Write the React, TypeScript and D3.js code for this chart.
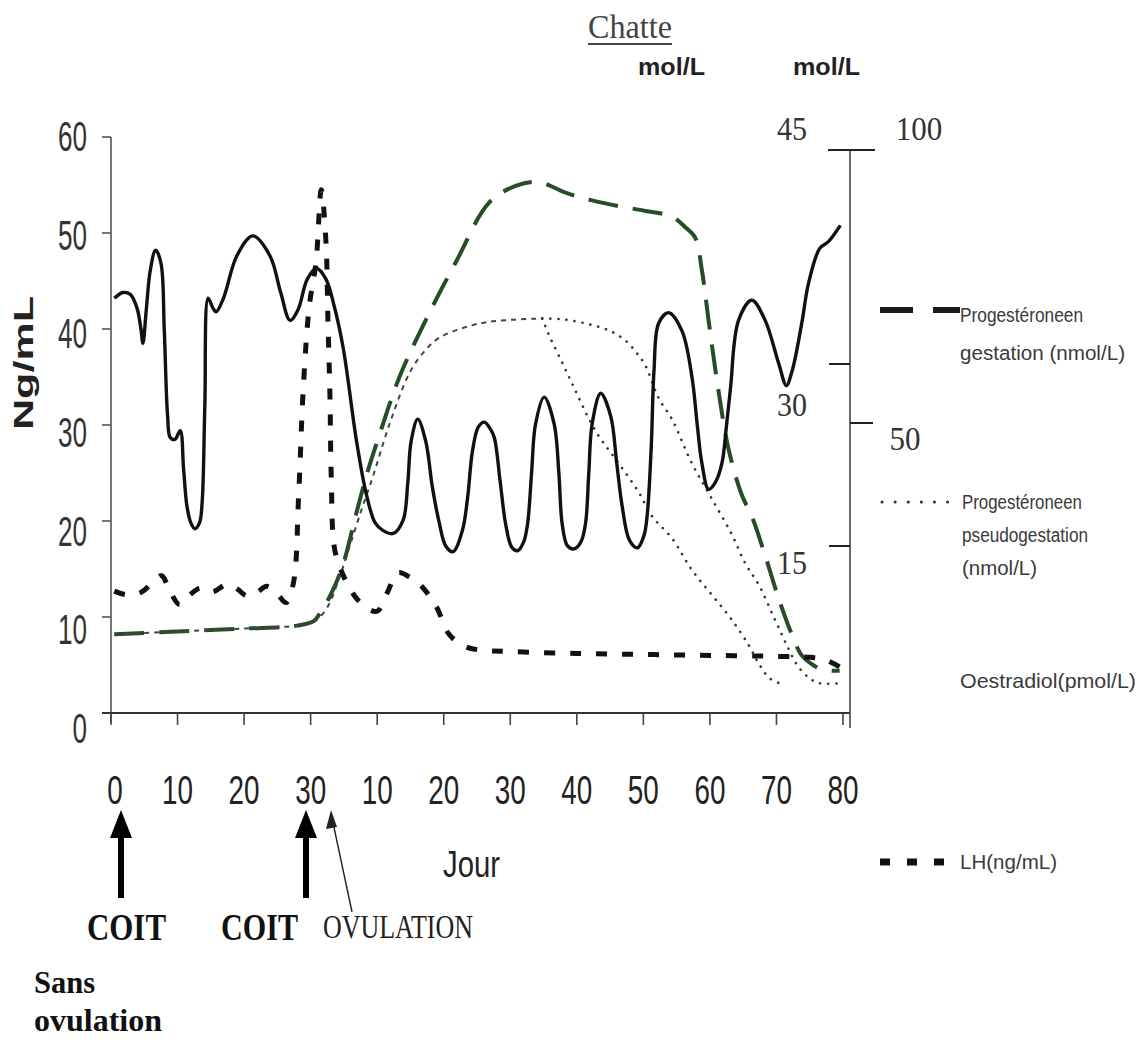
import React from 'react';
import * as d3 from 'd3';

const W = 1148;
const H = 1044;

// x domain: continuous day index (0-30 first cycle, then 30 + day of second phase)
const xTickPos = [0, 10, 20, 30, 40, 50, 60, 70, 80, 90, 100, 110];
const xTickLabels = ['0', '10', '20', '30', '10', '20', '30', '40', '50', '60', '70', '80'];
const yTicks = [0, 10, 20, 30, 40, 50, 60];
const rightInnerTicks = [45, 30, 15];
const rightOuterTicks = [100, 50];

// Oestradiol (solid black)
const oestT = [0.5, 1.8, 2.9, 3.9, 4.5, 4.8, 5.3, 5.9, 6.7, 7.5, 8.0, 8.5, 8.9, 9.6, 10.4, 10.9, 11.4, 12.0, 12.6, 13.3, 13.7, 14.1, 14.6, 15.3, 15.8, 16.9, 18.9, 21.3, 23.9, 25.5, 26.9, 28.1, 29.5, 30.9, 32.3, 33.5, 34.9, 36.9, 38.4, 39.7, 40.9, 42.4, 43.9, 44.6, 45.1, 46.1, 47.3, 48.3, 49.3, 50.3, 51.4, 52.8, 53.6, 54.3, 55.2, 56.1, 57.0, 57.6, 58.5, 59.3, 60.2, 61.1, 62.0, 62.6, 63.2, 63.8, 65.1, 66.6, 67.3, 67.8, 68.6, 69.6, 70.6, 71.3, 71.8, 72.3, 73.6, 75.1, 76.0, 76.8, 77.9, 79.1, 80.1, 80.6, 81.2, 81.6, 82.3, 83.8, 85.8, 87.3, 88.1, 88.8, 89.8, 90.8, 91.8, 92.5, 93.1, 94.3, 96.3, 98.3, 100.3, 101.5, 102.3, 103.0, 103.9, 104.8, 106.5, 107.8, 109.6];
const oestV = [43.2, 43.8, 43.6, 42.2, 40.0, 38.5, 42.0, 46.1, 48.2, 46.9, 40.0, 31.0, 28.7, 28.5, 29.4, 25.5, 21.6, 19.8, 19.2, 19.8, 22.0, 32.0, 43.2, 42.2, 41.8, 43.2, 47.6, 49.7, 47.6, 43.8, 40.9, 42.0, 45.2, 46.3, 45.2, 42.5, 38.0, 28.3, 22.7, 19.8, 19.0, 18.7, 20.1, 24.0, 28.3, 30.6, 28.3, 23.5, 19.9, 17.4, 16.8, 19.0, 22.5, 27.2, 29.8, 30.3, 29.6, 28.7, 24.0, 19.7, 17.3, 16.9, 17.8, 19.7, 25.0, 30.1, 32.9, 30.1, 25.0, 19.7, 17.4, 17.1, 17.8, 19.7, 25.0, 30.1, 33.3, 30.9, 26.0, 21.6, 18.0, 17.2, 18.5, 20.8, 28.0, 35.7, 40.6, 41.7, 39.8, 35.0, 30.0, 26.0, 23.3, 24.0, 26.0, 30.0, 33.9, 40.9, 43.0, 40.9, 36.5, 34.1, 35.5, 37.6, 41.0, 44.7, 48.4, 49.1, 50.8];

// LH (thick short dashes)
const lhT = [0.5, 2.5, 4.6, 6.5, 7.6, 9.0, 10.3, 12.0, 13.4, 15.2, 17.4, 19.0, 20.4, 22.0, 23.4, 25.0, 26.3, 27.4, 28.2, 28.9, 29.8, 30.8, 31.6, 32.3, 32.6, 32.9, 33.1, 33.6, 34.8, 36.5, 38.3, 40.0, 41.5, 43.1, 45.0, 46.4, 48.8, 50.8, 53.0, 55.0, 60, 70, 80, 90, 100, 105, 107.5, 109.5];
const lhV = [12.7, 12.3, 12.6, 13.8, 14.3, 12.5, 11.3, 12.4, 13.0, 12.6, 13.4, 12.9, 12.2, 12.6, 13.2, 12.4, 11.5, 13.5, 22.7, 33.9, 42.4, 46.9, 54.5, 49.1, 40.9, 33.1, 24.6, 17.1, 14.5, 12.3, 11.0, 10.6, 12.5, 14.6, 14.1, 13.4, 11.2, 8.2, 7.0, 6.6, 6.4, 6.2, 6.1, 6.0, 5.9, 5.8, 5.5, 4.8];

// Progesterone, gestation (long green dashes)
const gestT = [0.5, 10, 20, 28, 30.5, 31.5, 33.0, 34.8, 36.9, 38.5, 40.35, 43.35, 47.35, 51.85, 56.85, 60.8, 64.3, 68.3, 72.3, 76.3, 80.3, 84.3, 86.3, 87.8, 88.8, 89.8, 91.3, 92.8, 94.8, 96.3, 98.3, 100.3, 102.3, 103.8, 105.5, 107.0, 109.5];
const gestV = [8.2, 8.5, 8.8, 9.1, 9.6, 10.5, 12.3, 15.3, 20.9, 25.0, 29.0, 35.0, 41.0, 47.0, 53.2, 54.9, 55.3, 54.2, 53.4, 52.8, 52.3, 51.7, 50.6, 49.5, 46.1, 40.9, 33.5, 27.5, 22.7, 20.5, 16.4, 12.0, 8.2, 6.0, 5.0, 4.5, 4.4];

// Progesterone, pseudogestation: early part (fine dashes)
const pseudoT = [0.5, 10, 20, 28, 30.5, 32.5, 34.5, 36.3, 37.8, 39.35, 41.85, 44.85, 47.0, 49.35, 54.35, 57.3, 64.8];
const pseudoV = [8.2, 8.5, 8.8, 9.1, 9.5, 11.0, 14.5, 18.3, 21.5, 24.6, 30.1, 35.4, 37.6, 39.1, 40.4, 40.8, 41.1];
// later part, plateau then decline (dotted)
const pseudoLateT = [64.8, 68, 71.8, 75, 77.3, 79, 80.3, 82.3, 84.3, 87.3, 90.3, 93.3, 95.3, 97.3, 99.8, 101.8, 103.3, 105, 106.5, 109.5];
const pseudoLateV = [41.1, 41.0, 40.5, 39.8, 38.8, 37.5, 36.2, 32.8, 30.6, 26.0, 22.3, 18.6, 15.6, 13.4, 9.7, 6.7, 4.8, 3.6, 3.1, 3.1];
// earlier branch of the decline (dotted)
const pseudoBranchT = [64.8, 65.8, 67.8, 69.3, 72.8, 76.3, 79.3, 81.3, 84.3, 87.3, 90.3, 93.3, 95.8, 97.3, 99.0, 100.5];
const pseudoBranchV = [41.1, 39.4, 36.5, 34.3, 29.4, 26.0, 23.0, 20.5, 18.2, 14.9, 12.3, 9.7, 7.1, 5.2, 3.6, 3.1];

const SANS = 'Liberation Sans, Arial, sans-serif';
const SERIF = 'Liberation Serif, Times New Roman, serif';

type P = [number, number];
const zip = (ts: number[], vs: number[]): P[] => ts.map((t, i) => [t, vs[i]] as P);

function Txt(props: { x: number; y: number; s: string; size: number; len?: number; family?: string; weight?: string | number; anchor?: string; fill?: string; transform?: string }) {
  const { x, y, s, size, len, family = SANS, weight = 'normal', anchor = 'start', fill = '#222', transform } = props;
  return (
    <text
      x={x}
      y={y}
      fontSize={size}
      fontFamily={family}
      fontWeight={weight}
      textAnchor={anchor}
      fill={fill}
      transform={transform}
      {...(len ? { textLength: len, lengthAdjust: 'spacingAndGlyphs' } : {})}
    >
      {s}
    </text>
  );
}

export default function App() {
  const x = d3.scaleLinear().domain([0, 110]).range([111, 843]);
  const y = d3.scaleLinear().domain([0, 60]).range([713, 137]);
  const yLab = d3.scaleLinear().domain([0, 60]).range([728, 136]);
  const yIn = d3.scaleLinear().domain([15, 30, 45]).range([546, 364, 150]);
  const yOut = d3.scaleLinear().domain([50, 100]).range([423, 150]);

  const line = d3
    .line<P>()
    .x((d) => x(d[0]))
    .y((d) => y(d[1]))
    .curve(d3.curveCatmullRom.alpha(0.5));

  const RX = 850;
  const innerLabelDy: Record<number, number> = { 45: -10, 30: 52, 15: 28 };
  const outerLabelDy: Record<number, number> = { 100: -10, 50: 27 };
  const LEG = '#3a3a3a';

  return (
    <svg width={W} height={H} style={{ position: 'absolute', left: 0, top: 0, background: '#fff' }}>
      <rect width={W} height={H} fill="#fff" />

      {/* title & units */}
      <Txt x={588} y={38} s="Chatte" size={34} len={84} family={SERIF} fill="#444" />
      <line x1={588} x2={672} y1={44} y2={44} stroke="#444" strokeWidth={2} />
      <Txt x={638} y={75} s="mol/L" size={24} len={67} weight="bold" fill="#222" />
      <Txt x={793} y={75} s="mol/L" size={24} len={67} weight="bold" fill="#222" />

      {/* left axis */}
      <line x1={111} x2={111} y1={137} y2={723} stroke="#555" strokeWidth={1.6} />
      {yTicks.map((v) => (
        <g key={'yt' + v}>
          <line x1={102} x2={111} y1={y(v)} y2={y(v)} stroke="#555" strokeWidth={1.6} />
          <Txt x={87} y={yLab(v) + 15} s={String(v)} size={42} len={String(v).length * 14.5} anchor="end" fill="#333" />
        </g>
      ))}
      <Txt
        x={0}
        y={0}
        s="Ng/mL"
        size={28}
        len={134}
        weight="bold"
        anchor="middle"
        fill="#222"
        transform="translate(33,363) rotate(-90)"
      />

      {/* x axis */}
      <line x1={102} x2={RX} y1={713} y2={713} stroke="#333" strokeWidth={2} />
      {xTickPos.map((t, i) => (
        <g key={'xt' + i}>
          <line x1={x(t)} x2={x(t)} y1={713} y2={725} stroke="#444" strokeWidth={1.6} />
          <Txt
            x={x(t) + (i === 0 ? 4 : 0)}
            y={804}
            s={xTickLabels[i]}
            size={40}
            len={xTickLabels[i].length * 15.5}
            anchor="middle"
            fill="#222"
          />
        </g>
      ))}

      {/* right axis */}
      <line x1={RX} x2={RX} y1={150} y2={728} stroke="#444" strokeWidth={1.6} />
      {rightInnerTicks.map((v) => (
        <g key={'ri' + v}>
          <line x1={v === 45 ? 828 : 829} x2={v === 45 ? 875 : RX} y1={yIn(v)} y2={yIn(v)} stroke="#222" strokeWidth={2} />
          <Txt x={792} y={yIn(v) + innerLabelDy[v]} s={String(v)} size={33} len={String(v).length * 15} anchor="middle" family={SERIF} fill="#333" />
        </g>
      ))}
      {rightOuterTicks.map((v) => (
        <g key={'ro' + v}>
          {v !== 100 && <line x1={RX} x2={873} y1={yOut(v)} y2={yOut(v)} stroke="#222" strokeWidth={2} />}
          <Txt x={v === 100 ? 919 : 905} y={yOut(v) + outerLabelDy[v]} s={String(v)} size={33} len={String(v).length * 15.5} anchor="middle" family={SERIF} fill="#333" />
        </g>
      ))}

      {/* series */}
      <path d={line(zip(gestT, gestV)) || ''} fill="none" stroke="#264d26" strokeWidth={4} strokeDasharray="30 15" />
      <path d={line(zip(pseudoT, pseudoV)) || ''} fill="none" stroke="#444" strokeWidth={2} strokeDasharray="5 5" />
      <path d={line(zip(pseudoLateT, pseudoLateV)) || ''} fill="none" stroke="#333" strokeWidth={2.6} strokeDasharray="0.1 8" strokeLinecap="round" />
      <path d={line(zip(pseudoBranchT, pseudoBranchV)) || ''} fill="none" stroke="#333" strokeWidth={2.6} strokeDasharray="0.1 8" strokeLinecap="round" />
      <path d={line(zip(lhT, lhV)) || ''} fill="none" stroke="#111" strokeWidth={5} strokeDasharray="11 15" />
      <path d={line(zip(oestT, oestV)) || ''} fill="none" stroke="#111" strokeWidth={3.4} strokeLinejoin="round" />

      {/* legend */}
      <line x1={880} x2={913} y1={310} y2={310} stroke="#1a1a1a" strokeWidth={6} />
      <line x1={933} x2={960} y1={310} y2={310} stroke="#1a1a1a" strokeWidth={6} />
      <Txt x={960} y={322} s="Progestéroneen" size={20} len={123} fill={LEG} />
      <Txt x={960} y={360} s="gestation (nmol/L)" size={20} len={165} fill={LEG} />

      <line x1={882} x2={957} y1={502} y2={502} stroke="#333" strokeWidth={3} strokeDasharray="0.1 13" strokeLinecap="round" />
      <Txt x={962} y={509} s="Progestéroneen" size={20} len={120} fill={LEG} />
      <Txt x={962} y={542} s="pseudogestation" size={20} len={126} fill={LEG} />
      <Txt x={962} y={575} s="(nmol/L)" size={20} len={75} fill={LEG} />

      <Txt x={960} y={688} s="Oestradiol(pmol/L)" size={21} len={176} fill={LEG} />

      <line x1={880} x2={948} y1={862} y2={862} stroke="#111" strokeWidth={7} strokeDasharray="10 17" />
      <Txt x={960} y={869} s="LH(ng/mL)" size={20} len={97} fill={LEG} />

      {/* bottom annotations */}
      <Txt x={443} y={877} s="Jour" size={37} len={57} fill="#222" />

      {/* thick arrows */}
      {[121, 306].map((ax) => (
        <g key={'ar' + ax}>
          <rect x={ax - 3} y={834} width={6} height={64} fill="#000" />
          <path d={`M${ax},810 L${ax - 11},838 L${ax + 11},838 Z`} fill="#000" />
        </g>
      ))}
      {/* thin arrow */}
      <line x1={352} y1={912} x2={332} y2={818} stroke="#222" strokeWidth={1.4} />
      <path d="M331,810 L326,829 L337,827 Z" fill="#222" />

      <Txt x={87} y={940} s="COIT" size={38} len={79} weight="bold" family={SERIF} fill="#111" />
      <Txt x={221} y={940} s="COIT" size={38} len={77} weight="bold" family={SERIF} fill="#111" />
      <Txt x={323} y={938} s="OVULATION" size={33} len={150} family={SERIF} fill="#222" />
      <Txt x={34} y={993} s="Sans" size={32} len={61} weight="bold" family={SERIF} fill="#111" />
      <Txt x={34} y={1031} s="ovulation" size={32} len={128} weight="bold" family={SERIF} fill="#111" />
    </svg>
  );
}
